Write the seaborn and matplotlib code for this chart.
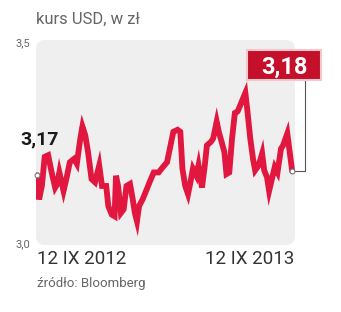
import matplotlib
matplotlib.use("Agg")
import matplotlib.pyplot as plt
from matplotlib.patches import FancyBboxPatch, Rectangle
import seaborn as sns
import pandas as pd

# data: days since 12 IX 2012, USD/PLN rate
days = [0, 3, 7, 11, 16, 21, 26, 29, 32, 38, 42, 47, 53, 57, 62, 65, 69, 73, 78, 83,
        89, 93, 99, 102, 107, 111, 113, 116, 120, 124, 128, 133, 137, 140, 143, 146,
        151, 157, 162, 167, 174, 180, 186, 191, 195, 201, 205, 208, 212, 216, 219,
        223, 228, 231, 236, 240, 243, 249, 252, 257, 260, 264, 268, 271, 275, 279,
        283, 287, 291, 295, 298, 301, 305, 309, 312, 317, 322, 325, 329, 332, 336,
        340, 344, 349, 352, 358, 362, 365]
rates = [3.170, 3.111, 3.144, 3.215, 3.219, 3.177, 3.140, 3.149, 3.177, 3.132, 3.161,
         3.202, 3.210, 3.198, 3.260, 3.289, 3.268, 3.227, 3.161, 3.153, 3.194, 3.144,
         3.144, 3.095, 3.074, 3.070, 3.169, 3.144, 3.078, 3.087, 3.144, 3.149, 3.111,
         3.078, 3.058, 3.095, 3.111, 3.136, 3.157, 3.177, 3.177, 3.190, 3.202, 3.243,
         3.276, 3.281, 3.276, 3.186, 3.144, 3.124, 3.149, 3.186, 3.169, 3.194, 3.140,
         3.194, 3.243, 3.252, 3.260, 3.301, 3.276, 3.252, 3.227, 3.173, 3.177, 3.260,
         3.322, 3.326, 3.342, 3.359, 3.371, 3.326, 3.260, 3.210, 3.182, 3.194, 3.223,
         3.182, 3.165, 3.132, 3.161, 3.190, 3.177, 3.235, 3.243, 3.272, 3.219, 3.180]
y_ticks = [3.0, 3.5]
y_tick_labels = ["3,0", "3,5"]
x_labels = ["12 IX 2012", "12 IX 2013"]
start_label = "3,17"
end_label = "3,18"
title = "kurs USD, w zł"
source = "źródło: Bloomberg"

df = pd.DataFrame({"day": days, "rate": rates})

sns.set_theme(style="white")
plt.rcParams["font.family"] = ["Roboto", "DejaVu Sans"]

W, H = 341, 312
fig = plt.figure(figsize=(W / 100, H / 100), dpi=100)
fig.patch.set_facecolor("white")

def fx(px):
    return px / W

def fy(py):
    return 1 - py / H

ax = fig.add_axes([fx(36), fy(245), fx(295) - fx(36), fy(40) - fy(245)])
ax.set_facecolor("none")
for s in ax.spines.values():
    s.set_visible(False)

# rounded light-gray panel behind the line
aw, ah = 295 - 36, 245 - 40
panel = FancyBboxPatch((0, 0), 1, 1,
                       boxstyle="round,pad=0,rounding_size=0.035",
                       mutation_aspect=aw / ah,
                       transform=ax.transAxes, facecolor="#efefef",
                       edgecolor="none", zorder=0, clip_on=False)
ax.add_patch(panel)

sns.lineplot(data=df, x="day", y="rate", ax=ax, color="#e2173f", lw=4.2,
             solid_joinstyle="miter", zorder=3)

ax.set_xlim(-1.4, 369)
ax.set_ylim(3.0, 3.5)
ax.set_xticks([])
ax.set_yticks([])
ax.set_xlabel("")
ax.set_ylabel("")

# end markers
ax.plot([days[0], days[-1]], [rates[0], rates[-1]], "o", ms=3.5,
        mfc="white", mec="#777777", mew=0.8, zorder=5, clip_on=False)

# connector from last point to label box
ax.annotate("", xy=(days[-1], rates[-1]), xycoords="data",
            xytext=(fx(305), fy(80)), textcoords="figure fraction",
            arrowprops=dict(arrowstyle="-", color="#555555", lw=0.8,
                            shrinkA=0, shrinkB=2,
                            connectionstyle="angle,angleA=-90,angleB=180,rad=0"),
            zorder=4)

# end value label box
box = Rectangle((fx(247), fy(80)), fx(321) - fx(247), fy(50) - fy(80),
                transform=fig.transFigure, facecolor="#c5102c",
                edgecolor="#f0c8cc", lw=1.5, zorder=5)
fig.patches.append(box)
fig.text(fx(284), fy(65), end_label, ha="center", va="center_baseline",
         color="white", fontsize=17, fontweight="bold", zorder=6)

# start label
fig.text(fx(20), fy(139), start_label, ha="left", va="center", color="#1a1a1a",
         fontsize=14, fontweight="bold")

# y tick labels
fig.text(fx(15), fy(43), y_tick_labels[1], ha="left", va="center",
         color="#666666", fontsize=8)
fig.text(fx(15), fy(244), y_tick_labels[0], ha="left", va="center",
         color="#666666", fontsize=8)

# x labels
fig.text(fx(37), fy(259), x_labels[0], ha="left", va="center",
         color="#333333", fontsize=13.5)
fig.text(fx(294), fy(259), x_labels[1], ha="right", va="center",
         color="#333333", fontsize=13.5)

fig.text(fx(36), fy(19), title, ha="left", va="center", color="#666666",
         fontsize=12)
fig.text(fx(37), fy(284), source, ha="left", va="center", color="#666666",
         fontsize=9.5)

fig.savefig("out.png", dpi=100, facecolor="white")
